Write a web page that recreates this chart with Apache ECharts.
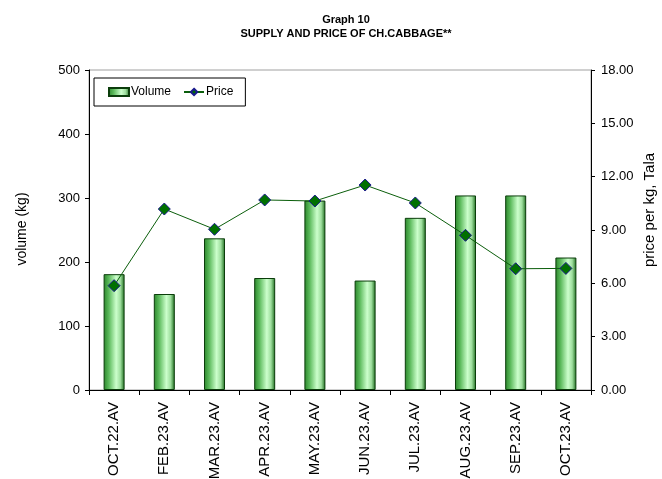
<!DOCTYPE html>
<html>
<head>
<meta charset="utf-8">
<script src="https://cdn.jsdelivr.net/npm/echarts@6/dist/echarts.min.js"></script>
<style>
html,body{margin:0;padding:0;background:#fff;}
#chart{width:662px;height:479px;}
</style>
</head>
<body>
<div id="chart"></div>
<script>
const categories = ['OCT.22.AV','FEB.23.AV','MAR.23.AV','APR.23.AV','MAY.23.AV','JUN.23.AV','JUL.23.AV','AUG.23.AV','SEP.23.AV','OCT.23.AV'];
const volume = [181, 150, 237, 175, 296, 171, 269, 304, 304, 207];
const price = [5.87, 10.18, 9.04, 10.69, 10.63, 11.53, 10.52, 8.70, 6.82, 6.84];

const FONT = '"Liberation Sans", Arial, sans-serif';
const chart = echarts.init(document.getElementById('chart'));
const barGrad = new echarts.graphic.LinearGradient(0, 0, 1, 0, [
  {offset: 0, color: '#2a852a'},
  {offset: 0.25, color: '#5cba5c'},
  {offset: 0.6, color: '#ccffcc'},
  {offset: 0.8, color: '#9ede9e'},
  {offset: 1, color: '#1c6b1c'}
]);
chart.setOption({
  animation: false,
  backgroundColor: '#ffffff',
  textStyle: {fontFamily: FONT},
  title: {
    text: 'Graph 10\nSUPPLY AND PRICE OF CH.CABBAGE**',
    left: 341, top: 8, textAlign: 'center',
    textStyle: {fontFamily: FONT, fontSize: 11, fontWeight: 'bold', color: '#000', lineHeight: 14}
  },
  legend: {
    left: 94, top: 78,
    padding: [8, 12, 8, 14],
    itemGap: 12, itemWidth: 20, itemHeight: 8,
    borderColor: '#000', borderWidth: 1, backgroundColor: '#fff',
    textStyle: {fontFamily: FONT, fontSize: 12, color: '#000', padding: [0,0,0,-3]},
    data: [{name: 'Volume', icon: 'rect'}, {name: 'Price'}]
  },
  grid: {left: 89, right: 71, top: 70, bottom: 89, show: true, borderColor: '#a0a0a0', borderWidth: 1,
         containLabel: false, outerBoundsMode: 'none'},
  xAxis: {
    type: 'category', data: categories, boundaryGap: true,
    axisLine: {lineStyle: {color: '#000', width: 1}},
    axisTick: {show: true, length: 5, lineStyle: {color: '#000'}},
    axisLabel: {rotate: 90, margin: 12, fontSize: 15, color: '#000', fontFamily: FONT, interval: 0}
  },
  yAxis: [{
    type: 'value', min: 0, max: 500, interval: 100,
    axisLine: {show: true, lineStyle: {color: '#000'}},
    axisTick: {show: true, length: 4, lineStyle: {color: '#000'}},
    axisLabel: {fontSize: 13, color: '#000', fontFamily: FONT, margin: 9},
    splitLine: {show: false}
  }, {
    type: 'value', min: 0, max: 18, interval: 3, position: 'right',
    axisLine: {show: true, lineStyle: {color: '#000'}},
    axisTick: {show: true, length: 4, lineStyle: {color: '#000'}},
    axisLabel: {fontSize: 13, color: '#000', fontFamily: FONT, margin: 10, formatter: v => v.toFixed(2)},
    splitLine: {show: false}
  }],
  graphic: [{
    type: 'text', x: 22, y: 229, rotation: Math.PI / 2,
    style: {text: 'volume (kg)', font: '14px ' + FONT, fill: '#000', textAlign: 'center', textVerticalAlign: 'middle'}
  }, {
    type: 'text', x: 650, y: 210, rotation: Math.PI / 2,
    style: {text: 'price per kg, Tala', font: '15px ' + FONT, fill: '#000', textAlign: 'center', textVerticalAlign: 'middle'}
  }],
  series: [{
    name: 'Volume', type: 'bar', data: volume, yAxisIndex: 0, barWidth: 21,
    itemStyle: {color: barGrad, borderColor: '#0b3d0b', borderWidth: 1}
  }, {
    name: 'Price', type: 'line', data: price, yAxisIndex: 1,
    symbol: 'diamond', symbolSize: 12,
    lineStyle: {color: '#0b5e0b', width: 1},
    itemStyle: {color: '#007000', borderColor: '#1a1a8c', borderWidth: 1}
  }]
});
</script>
</body>
</html>
